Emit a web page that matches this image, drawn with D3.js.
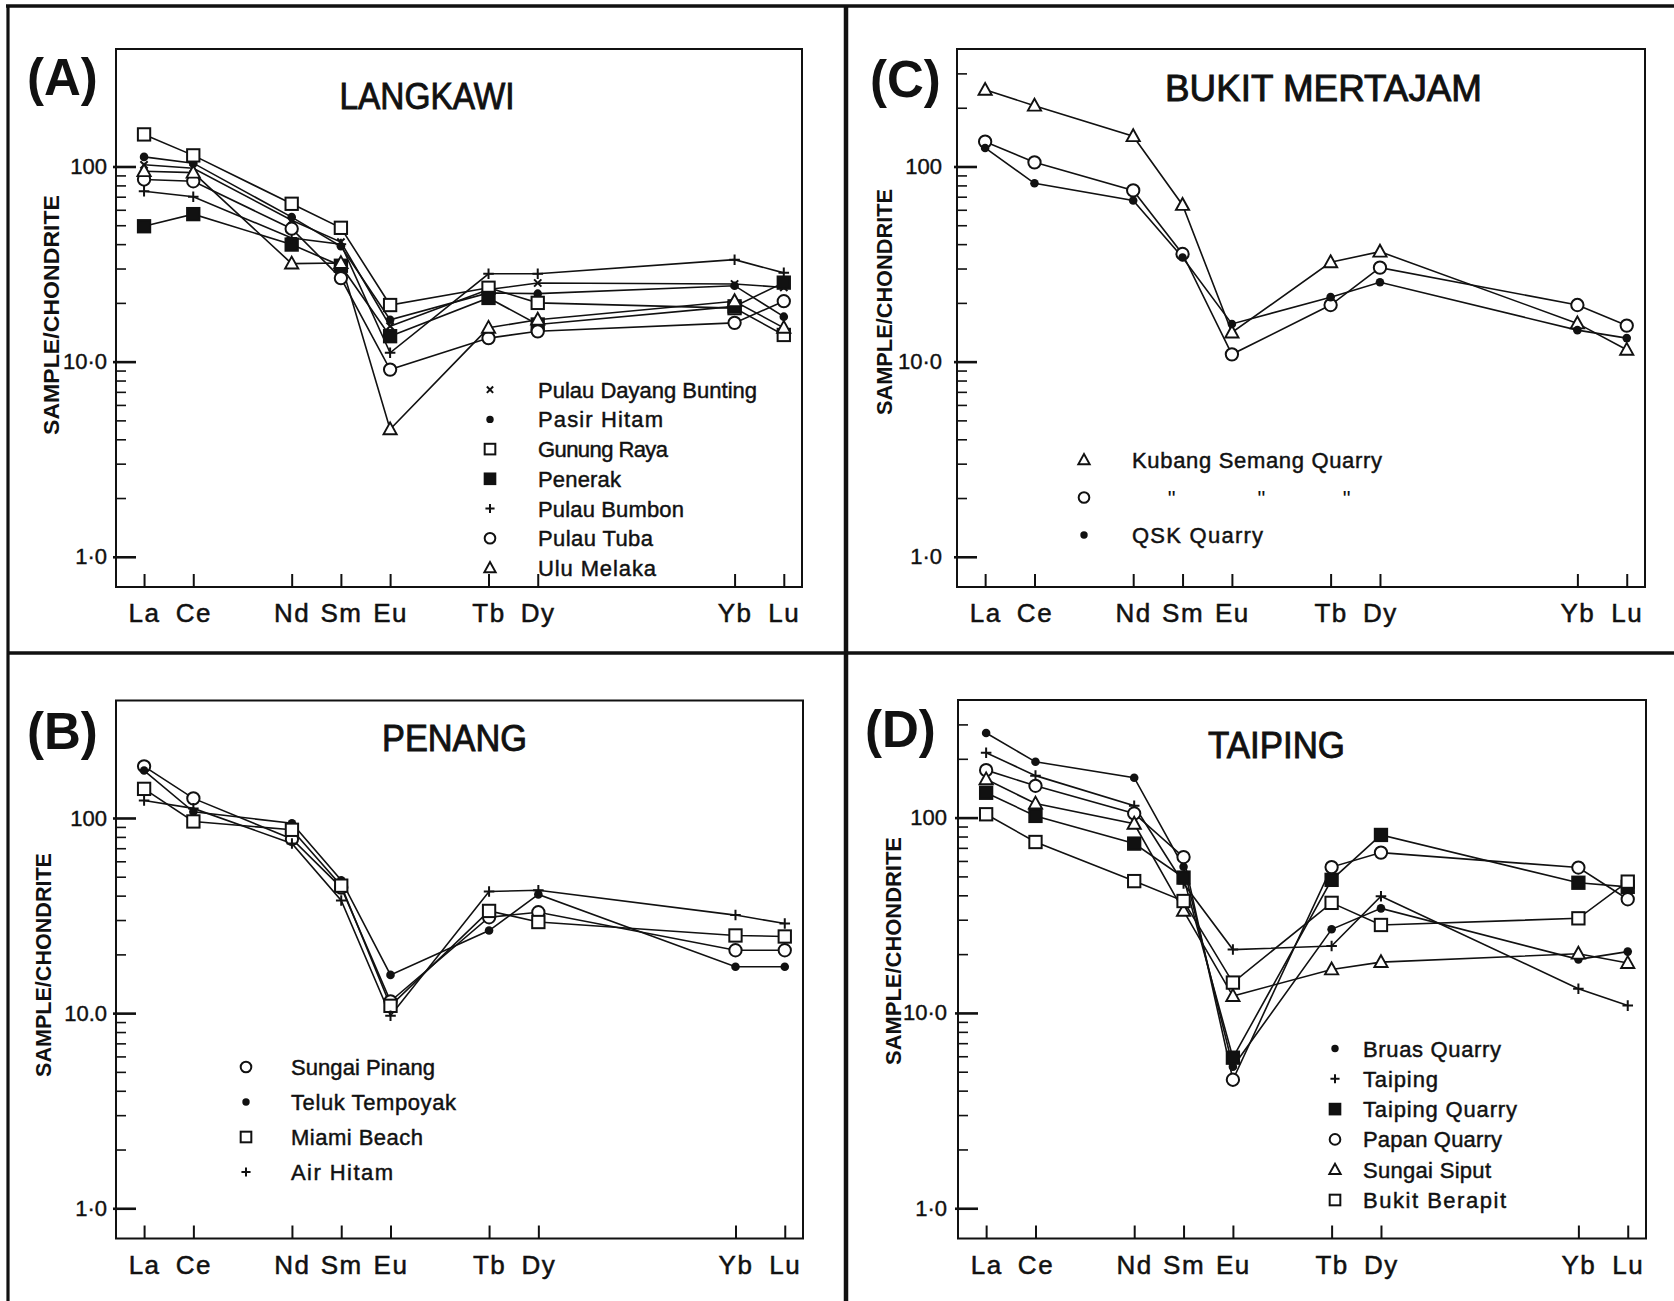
<!DOCTYPE html>
<html lang="en">
<head>
<meta charset="utf-8" />
<title>REE patterns</title>
<style>
  body { margin: 0; background: #fff; }
</style>
</head>
<body>
<script src="https://d3js.org/d3.v7.min.js"></script>
<div id="chart"></div>
<script>
// rare earth elements along the x axis, slot = position (gaps for elements not analysed)
const ree = ["La", "Ce", "Nd", "Sm", "Eu", "Tb", "Dy", "Yb", "Lu"];
const reeSlot = [0, 1, 3, 4, 5, 7, 8, 12, 13];

const majorTicks = [1, 10, 100];

// (A) Langkawi
const langkawiNames = ["Pulau Dayang Bunting", "Pasir Hitam", "Gunung Raya", "Penerak", "Pulau Bumbon", "Pulau Tuba", "Ulu Melaka"];
const langkawiMarks = ["x", "dot", "sq", "fsq", "plus", "circ", "tri"];
const langkawiValues = [
    [102, 98, 53, 41, 15.2, 23.4, 25.3, 25, 24],
    [112, 104, 55, 39, 16.4, 22.5, 22.3, 24.5, 17],
    [146, 114, 64.4, 48.5, 19.5, 23.9, 20, 18.8, 13.7],
    [49.4, 57, 39.8, 31, 13.5, 21.2, 15.5, 19.2, 25.4],
    [74.7, 70, 43, 40, 11.1, 28.2, 28.2, 33.3, 28.5],
    [85.8, 84, 48, 26.8, 9.1, 13.2, 14.3, 15.8, 20.4],
    [94.6, 93, 31.8, 32, 4.5, 14.9, 16.4, 20.4, 14.9]
];
const langkawiTicks = ["1·0", "10·0", "100"];

// (B) Penang
const penangNames = ["Sungai Pinang", "Teluk Tempoyak", "Miami Beach", "Air Hitam"];
const penangMarks = ["circ", "dot", "sq", "plus"];
const penangValues = [
    [184, 126, 78, 44, 11.5, 31, 32.9, 21, 21],
    [175, 107.6, 94, 48, 15.7, 26.5, 40.6, 17.3, 17.3],
    [141, 96, 87, 45, 10.9, 33.4, 29.3, 25, 24.7],
    [123, 112, 74, 37.8, 9.7, 42, 42.6, 31.8, 28.8]
];
const penangTicks = ["1·0", "10.0", "100"];

// (C) Bukit Mertajam  ('"' = ditto, same as line above)
const mertajamNames = ["Kubang Semang Quarry", "\"", "QSK Quarry"];
const mertajamMarks = ["tri", "circ", "dot"];
const mertajamValues = [
    [247, 205, 143, 63.5, 14.1, 32.3, 36.6, 15.7, 11.5],
    [134, 105, 75.4, 35.6, 10.9, 19.5, 30.3, 19.5, 15.3],
    [124.5, 82, 67, 34.2, 15.6, 21.4, 25.5, 14.5, 13.2]
];
const mertajamTicks = ["1·0", "10·0", "100"];

// (D) Taiping
const taipingNames = ["Bruas Quarry", "Taiping", "Taiping Quarry", "Papan Quarry", "Sungai Siput", "Bukit Berapit"];
const taipingMarks = ["dot", "plus", "fsq", "circ", "tri", "sq"];
const taipingValues = [
    [271, 193, 160, 56, 5.3, 26.8, 34.3, 18.8, 20.6],
    [215, 164, 115, 46, 21.1, 22, 39.6, 13.3, 10.9],
    [134, 102, 73.6, 49.3, 5.9, 48, 81.5, 46.4, 44.2],
    [175, 145.5, 105, 62.8, 4.55, 55.8, 66.2, 55.5, 38.2],
    [157, 118, 93, 33.3, 12.2, 16.7, 18.2, 20.1, 18],
    [104, 75, 47.3, 37.4, 14.3, 36.6, 28.2, 30.5, 47]
];
const taipingTicks = ["1·0", "10·0", "100"];

const W = 1674, H = 1301;
const FONT = "'Liberation Sans', Arial, sans-serif";
const INK = "#111";

const panels = [
    {label: "(A)", title: "LANGKAWI", names: langkawiNames, marks: langkawiMarks, values: langkawiValues, ticks: langkawiTicks,
     box: {x: 116, y: 49, w: 686, h: 538}, lab: {x: 27, y: 95}, tit: {cx: 427, y: 109, len: 175},
     yt: {x: 58.5, y: 315, len: 240}, pad: 9, upperMinor: false,
     leg: {mx: 490, tx: 538, y0: 389.7, dy: 29.7, lens: [219, 125, 130, 83, 146, 115, 118]}},
    {label: "(C)", title: "BUKIT MERTAJAM", names: mertajamNames, marks: mertajamMarks, values: mertajamValues, ticks: mertajamTicks,
     box: {x: 957, y: 49, w: 688, h: 538}, lab: {x: 870, y: 97}, tit: {cx: 1323.5, y: 101, len: 317},
     yt: {x: 891.5, y: 302, len: 226}, pad: 15, upperMinor: true,
     leg: {mx: 1084, tx: 1132, y0: 460, dy: 37.5, lens: [250, 0, 131]}},
    {label: "(B)", title: "PENANG", names: penangNames, marks: penangMarks, values: penangValues, ticks: penangTicks,
     box: {x: 116, y: 700.5, w: 687, h: 538}, lab: {x: 27, y: 749}, tit: {cx: 454.5, y: 751, len: 145},
     yt: {x: 50.5, y: 965, len: 224}, pad: 9, upperMinor: false,
     leg: {mx: 246, tx: 291, y0: 1067, dy: 35, lens: [144, 165, 132, 102]}},
    {label: "(D)", title: "TAIPING", names: taipingNames, marks: taipingMarks, values: taipingValues, ticks: taipingTicks,
     box: {x: 958, y: 700, w: 688, h: 538.5}, lab: {x: 865, y: 747}, tit: {cx: 1276.5, y: 758, len: 137},
     yt: {x: 900.5, y: 951, len: 228}, pad: 11, upperMinor: true,
     leg: {mx: 1335, tx: 1363, y0: 1048.5, dy: 30.3, lens: [138, 75, 154, 139, 128, 143]}}
];

const svg = d3.select("#chart").append("svg")
    .attr("width", W)
    .attr("height", H)
    .attr("viewBox", [0, 0, W, H])
    .style("display", "block");

svg.append("rect").attr("width", W).attr("height", H).attr("fill", "#fff");

// the heavy frame that splits the figure in four
const frame = svg.append("g").attr("stroke", INK);
frame.append("line").attr("x1", 6).attr("x2", W).attr("y1", 6).attr("y2", 6).attr("stroke-width", 3.5);
frame.append("line").attr("x1", 8).attr("x2", 8).attr("y1", 5).attr("y2", H).attr("stroke-width", 3.2);
frame.append("line").attr("x1", 846).attr("x2", 846).attr("y1", 5).attr("y2", H).attr("stroke-width", 4.5);
frame.append("line").attr("x1", 7).attr("x2", W).attr("y1", 653).attr("y2", 653).attr("stroke-width", 3.5);

function drawMarker(g, type, cx, cy, s) {
    if (type === "circ") {
        g.append("circle").attr("cx", cx).attr("cy", cy).attr("r", 5.6 * s)
            .attr("fill", "#fff").attr("stroke", INK).attr("stroke-width", 2);
    } else if (type === "dot") {
        g.append("circle").attr("cx", cx).attr("cy", cy).attr("r", 3.9 * s).attr("fill", INK);
    } else if (type === "sq" || type === "fsq") {
        const a = 5.6 * s;
        g.append("rect").attr("x", cx - a).attr("y", cy - a).attr("width", 2 * a).attr("height", 2 * a)
            .attr("fill", type === "sq" ? "#fff" : INK).attr("stroke", INK).attr("stroke-width", 2);
    } else if (type === "tri") {
        const a = 6 * s;
        g.append("path").attr("d", `M${cx},${cy - a * 1.05}L${cx + a},${cy + a * 0.75}L${cx - a},${cy + a * 0.75}Z`)
            .attr("fill", "#fff").attr("stroke", INK).attr("stroke-width", 1.9);
    } else if (type === "plus") {
        const a = 4.8 * s;
        g.append("path").attr("d", `M${cx - a},${cy}H${cx + a}M${cx},${cy - a}V${cy + a}`)
            .attr("stroke", INK).attr("stroke-width", 2).attr("fill", "none");
    } else if (type === "x") {
        const a = 3.3 * s;
        g.append("path").attr("d", `M${cx - a},${cy - a}L${cx + a},${cy + a}M${cx + a},${cy - a}L${cx - a},${cy + a}`)
            .attr("stroke", INK).attr("stroke-width", 2).attr("fill", "none");
    }
}

function drawPanel(p) {
    const g = svg.append("g");
    const b = p.box;

    const x = d3.scaleLinear().domain([-0.57, 13.37]).range([b.x, b.x + b.w]);
    const y = d3.scaleLog().domain([0.7, 400]).range([b.y + b.h, b.y]);

    // plot box
    g.append("rect").attr("x", b.x).attr("y", b.y).attr("width", b.w).attr("height", b.h)
        .attr("fill", "none").attr("stroke", INK).attr("stroke-width", 2);

    // minor y ticks
    const minor = [];
    [1, 10].forEach(dec => d3.range(2, 10).forEach(m => minor.push(dec * m)));
    if (p.upperMinor) minor.push(200, 300);
    const yMinor = g.append("g").attr("transform", `translate(${b.x},0)`)
        .call(d3.axisLeft(y).tickValues(minor).tickSizeInner(-10).tickSizeOuter(0).tickFormat(""));
    yMinor.select(".domain").remove();
    yMinor.selectAll(".tick line").attr("stroke", INK).attr("stroke-width", 1.6);

    // major y ticks and labels
    const yMajor = g.append("g").attr("transform", `translate(${b.x},0)`)
        .call(d3.axisLeft(y).tickValues(majorTicks).tickSizeInner(-20).tickSizeOuter(0)
            .tickPadding(p.pad).tickFormat((d, i) => p.ticks[i]));
    yMajor.attr("font-family", FONT).attr("font-size", 22);
    yMajor.select(".domain").remove();
    yMajor.selectAll(".tick line").attr("x1", -3).attr("stroke", INK).attr("stroke-width", 2.6);
    yMajor.selectAll(".tick text").attr("fill", INK).attr("stroke", INK).attr("stroke-width", 0.4);

    // x ticks and element labels
    const xAxis = g.append("g").attr("transform", `translate(0,${b.y + b.h})`)
        .call(d3.axisBottom(x).tickValues(reeSlot).tickSizeInner(-13).tickSizeOuter(0)
            .tickFormat((d, i) => ree[i]));
    xAxis.attr("font-family", FONT).attr("font-size", 26);
    xAxis.select(".domain").remove();
    xAxis.selectAll(".tick line").attr("stroke", INK).attr("stroke-width", 2);
    xAxis.selectAll(".tick text").attr("y", 35).attr("dy", null)
        .attr("letter-spacing", 1.5)
        .attr("fill", INK).attr("stroke", INK).attr("stroke-width", 0.5);

    // axis title
    g.append("text")
        .attr("transform", `translate(${p.yt.x},${p.yt.y}) rotate(-90)`)
        .attr("text-anchor", "middle")
        .attr("font-family", FONT).attr("font-weight", "bold").attr("font-size", 22)
        .attr("textLength", p.yt.len).attr("lengthAdjust", "spacingAndGlyphs")
        .attr("fill", INK)
        .text("SAMPLE/CHONDRITE");

    // panel letter and locality title
    g.append("text").attr("x", p.lab.x).attr("y", p.lab.y)
        .attr("font-family", FONT).attr("font-weight", "bold").attr("font-size", 51)
        .attr("fill", INK).text(p.label);

    g.append("text").attr("x", p.tit.cx - p.tit.len / 2).attr("y", p.tit.y)
        .attr("font-family", FONT).attr("font-size", 36)
        .attr("textLength", p.tit.len).attr("lengthAdjust", "spacingAndGlyphs")
        .attr("fill", INK).attr("stroke", INK).attr("stroke-width", 0.9)
        .text(p.title);

    // patterns: lines first, markers on top
    const line = d3.line().x((v, i) => x(reeSlot[i])).y(v => y(v));
    const lines = g.append("g");
    p.values.forEach(vals => {
        lines.append("path").attr("d", line(vals))
            .attr("fill", "none").attr("stroke", INK).attr("stroke-width", 1.6);
    });
    const pts = g.append("g");
    p.values.forEach((vals, k) => {
        vals.forEach((v, i) => drawMarker(pts, p.marks[k], x(reeSlot[i]), y(v), 1.1));
    });

    // legend
    const leg = g.append("g");
    let prev = null;
    p.names.forEach((name, k) => {
        const ry = p.leg.y0 + k * p.leg.dy;
        drawMarker(leg, p.marks[k], p.leg.mx, ry, 0.95);
        if (name === "\"" && prev) {
            // ditto marks under each word of the line above
            const full = prev.text();
            let start = 0;
            full.split(" ").forEach(word => {
                const idx = full.indexOf(word, start);
                const node = prev.node();
                const x0 = node.getStartPositionOfChar(idx).x;
                const x1 = node.getEndPositionOfChar(idx + word.length - 1).x;
                leg.append("text").attr("x", (x0 + x1) / 2).attr("y", ry + 8)
                    .attr("text-anchor", "middle")
                    .attr("font-family", FONT).attr("font-size", 22).attr("fill", INK)
                    .text("\"");
                start = idx + word.length;
            });
        } else {
            prev = leg.append("text").attr("x", p.leg.tx).attr("y", ry + 8)
                .attr("font-family", FONT).attr("font-size", 22)
                .attr("textLength", p.leg.lens[k]).attr("lengthAdjust", "spacing")
                .attr("fill", INK).attr("stroke", INK).attr("stroke-width", 0.45)
                .text(name);
        }
    });
}

panels.forEach(drawPanel);
</script>
</body>
</html>
